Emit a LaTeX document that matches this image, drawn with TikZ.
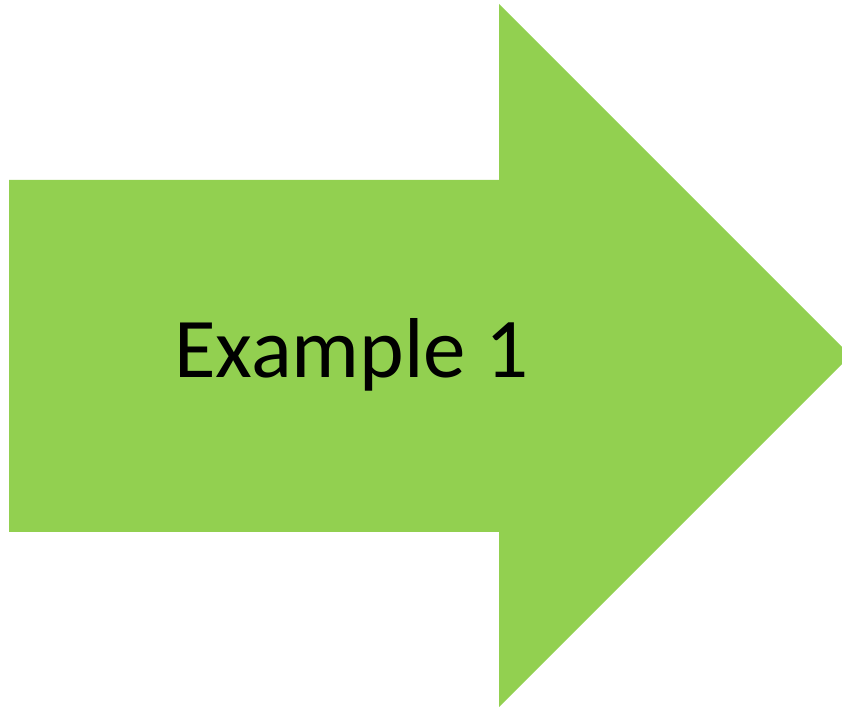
\documentclass[tikz,border=0pt]{standalone}
\usepackage{fontspec}
\setmainfont{Carlito}
\definecolor{arrowgreen}{HTML}{92D050}
\begin{document}
\begin{tikzpicture}[x=1pt,y=1pt,
  arrowshape/.style={fill=arrowgreen,draw=none},
  labeltext/.style={font=\fontsize{85}{100}\selectfont,text=black,inner sep=0pt,anchor=base}]
\useasboundingbox (0,0) rectangle (842,708);
\clip (0,0) rectangle (842,708);
\fill[arrowshape] (9,176) -- (499,176) -- (499,1) -- (850.5,352.5) -- (499,704) -- (499,528) -- (9,528) -- cycle;
\node[labeltext] (lbl) at (351.5,330) {Example 1};
\end{tikzpicture}
\end{document}
